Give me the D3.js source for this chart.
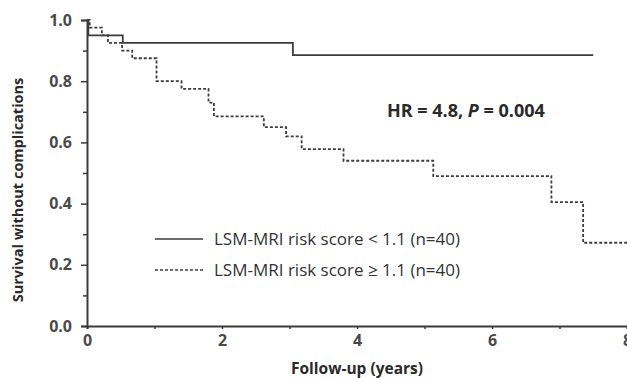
<!DOCTYPE html>
<html>
<head>
<meta charset="utf-8">
<script src="https://cdnjs.cloudflare.com/ajax/libs/d3/7.8.5/d3.min.js"></script>
<style>
  body { margin: 0; background: #fff; }
  text { font-family: "Open Sans", "DejaVu Sans", sans-serif; }
</style>
</head>
<body>
<div id="graph"></div>
<script>
const width = 627, height = 378;
const margin = {top: 20, right: 0, bottom: 52, left: 87};

// low risk group (solid)
const lowTimes = [0, 0.02, 0.53, 3.05, 7.5];
const lowSurv = [1.0, 0.95, 0.925, 0.885, 0.885];
// high risk group (dashed)
const highTimes = [0, 0.04, 0.22, 0.31, 0.52, 0.67, 1.03, 1.40, 1.80, 1.88, 2.62, 2.95, 3.18, 3.80, 5.13, 6.88, 7.35, 8.0];
const highSurv = [1.0, 0.975, 0.95, 0.925, 0.90, 0.875, 0.80, 0.775, 0.73, 0.685, 0.65, 0.62, 0.578, 0.54, 0.49, 0.405, 0.272, 0.272];

const xTicks = [0, 2, 4, 6, 8];
const xMinor = [1, 3, 5, 7];
const yTicks = [0, 0.2, 0.4, 0.6, 0.8, 1.0];
const yMinor = [0.1, 0.3, 0.5, 0.7, 0.9];
const legendLabels = ["LSM-MRI risk score < 1.1 (n=40)", "LSM-MRI risk score \u2265 1.1 (n=40)"];

const axisColor = "#3a3a3a", labelColor = "#4a4a4a";

let svg = d3.select("#graph").
append("svg").
attr("width", width).
attr("height", height);

const x = d3.scaleLinear().domain([0, 8]).range([margin.left, width - margin.right]);
const y = d3.scaleLinear().domain([0, 1]).range([height - margin.bottom, margin.top]);

// y axis
svg.append("g").attr("transform", "translate(" + margin.left + ",0)").
call(d3.axisLeft(y).tickValues(yTicks).tickFormat(d3.format(".1f")).tickSize(6).tickPadding(9));
svg.append("g").attr("transform", "translate(" + margin.left + ",0)").
call(d3.axisLeft(y).tickValues(yMinor).tickFormat("").tickSize(4)).
select(".domain").remove();

// x axis
svg.append("g").attr("transform", "translate(0," + y(0) + ")").
call(d3.axisBottom(x).tickValues(xTicks).tickFormat(d3.format("d")).tickSize(3).tickPadding(6));
svg.append("g").attr("transform", "translate(0," + y(0) + ")").
call(d3.axisBottom(x).tickValues(xMinor).tickFormat("").tickSize(3)).
select(".domain").remove();

svg.selectAll(".domain").attr("stroke", axisColor).attr("stroke-width", 2);
svg.selectAll(".tick line").attr("stroke", axisColor).attr("stroke-width", 1.5);
svg.selectAll(".tick text").
attr("fill", labelColor).
style("font-size", "16px").
style("font-weight", "bold");

// step curves
const line = d3.line().x(d => x(d[0])).y(d => y(d[1])).curve(d3.curveStepAfter);

svg.append("path").
datum(lowTimes.map((t, i) => [t, lowSurv[i]])).
attr("d", line).
attr("fill", "none").
attr("stroke", "#3c3c3c").
attr("stroke-width", 1.8);

svg.append("path").
datum(highTimes.map((t, i) => [t, highSurv[i]])).
attr("d", line).
attr("fill", "none").
attr("stroke", "#3c3c3c").
attr("stroke-width", 1.8).
attr("stroke-dasharray", "3,2");

// legend
const legend = svg.append("g");
legendLabels.forEach((lab, i) => {
  const ly = 239 + i * 31;
  legend.append("line").
  attr("x1", 155).attr("x2", 203).
  attr("y1", ly).attr("y2", ly).
  attr("stroke", "#3c3c3c").
  attr("stroke-width", 1.4).
  attr("stroke-dasharray", i === 1 ? "3,2" : null);
  legend.append("text").
  attr("x", 214).attr("y", ly + 6).
  attr("fill", "#333").
  style("font-size", "17px").
  text(lab);
});

// HR annotation
const hr = svg.append("text").
attr("x", 387).attr("y", 117).
attr("fill", "#2a2a2a").
style("font-size", "18px").
style("font-weight", "bold");
hr.append("tspan").text("HR = 4.8, ");
hr.append("tspan").style("font-style", "italic").text("P");
hr.append("tspan").text(" = 0.004");

// axis titles
svg.append("text").
attr("x", 357).attr("y", 374).
attr("text-anchor", "middle").
attr("fill", "#2a2a2a").
style("font-size", "15.5px").
style("font-weight", "bold").
text("Follow-up (years)");

svg.append("text").
attr("transform", "translate(23,190) rotate(-90)").
attr("text-anchor", "middle").
attr("fill", "#2a2a2a").
style("font-size", "14.5px").
style("font-weight", "bold").
text("Survival without complications");
</script>
</body>
</html>
